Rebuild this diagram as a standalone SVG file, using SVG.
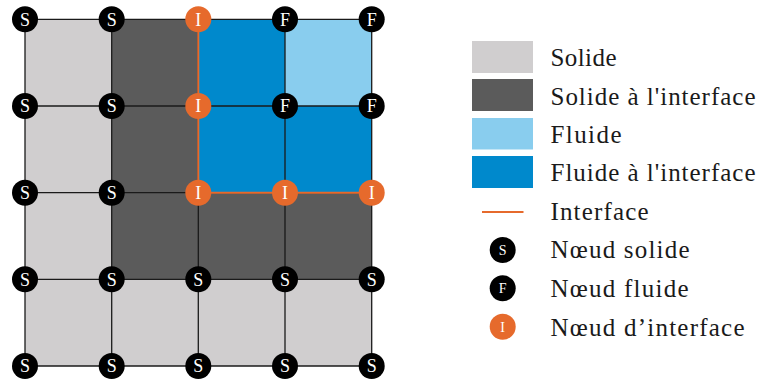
<svg xmlns="http://www.w3.org/2000/svg" width="763" height="383" viewBox="0 0 763 383">
<defs>
<circle id="dot" r="13"/>
</defs>
<rect width="763" height="383" fill="#fff"/>
<g id="cells">
<g fill="#D0CECF">
<rect x="25" y="19.3" width="86.7" height="86.7"/>
<rect x="25" y="106" width="86.7" height="86.7"/>
<rect x="25" y="192.7" width="86.7" height="86.6"/>
<rect x="25" y="279.3" width="346.7" height="86.7"/>
</g>
<g fill="#5B5B5B">
<rect x="111.7" y="19.3" width="86.6" height="86.7"/>
<rect x="111.7" y="106" width="86.6" height="86.7"/>
<rect x="111.7" y="192.7" width="260" height="86.6"/>
</g>
<g fill="#0089CC">
<rect x="198.3" y="19.3" width="86.7" height="86.7"/>
<rect x="198.3" y="106" width="173.4" height="86.7"/>
</g>
<rect fill="#89CDEE" x="285" y="19.3" width="86.7" height="86.7"/>
</g>
<g id="connectors">
<g stroke="#1a1a1a" stroke-width="1.3">
<line x1="25" y1="19.3" x2="371.7" y2="19.3"/>
<line x1="25" y1="106" x2="371.7" y2="106"/>
<line x1="25" y1="192.7" x2="371.7" y2="192.7"/>
<line x1="25" y1="279.3" x2="371.7" y2="279.3"/>
<line x1="25" y1="366" x2="371.7" y2="366"/>
<line x1="25" y1="19.3" x2="25" y2="366"/>
<line x1="111.7" y1="19.3" x2="111.7" y2="366"/>
<line x1="198.3" y1="19.3" x2="198.3" y2="366"/>
<line x1="285" y1="19.3" x2="285" y2="366"/>
<line x1="371.7" y1="19.3" x2="371.7" y2="366"/>
</g>
<polyline points="198.3,19.3 198.3,192.7 371.7,192.7" fill="none" stroke="#E66A2C" stroke-width="2"/>
</g>
<g id="nodes" font-family="Liberation Serif, DejaVu Serif, serif" font-size="18" text-anchor="middle">
<g id="n00"><use href="#dot" x="25" y="19.3" fill="#000"/><text fill="#fff" x="25" y="25.6">S</text></g>
<g id="n01"><use href="#dot" x="111.7" y="19.3" fill="#000"/><text fill="#fff" x="111.7" y="25.6">S</text></g>
<g id="n02"><use href="#dot" x="198.3" y="19.3" fill="#E66A2C"/><text fill="#fff" x="198.3" y="25.6">I</text></g>
<g id="n03"><use href="#dot" x="285" y="19.3" fill="#000"/><text fill="#fff" x="285" y="25.6">F</text></g>
<g id="n04"><use href="#dot" x="371.7" y="19.3" fill="#000"/><text fill="#fff" x="371.7" y="25.6">F</text></g>
<g id="n10"><use href="#dot" x="25" y="106" fill="#000"/><text fill="#fff" x="25" y="112.3">S</text></g>
<g id="n11"><use href="#dot" x="111.7" y="106" fill="#000"/><text fill="#fff" x="111.7" y="112.3">S</text></g>
<g id="n12"><use href="#dot" x="198.3" y="106" fill="#E66A2C"/><text fill="#fff" x="198.3" y="112.3">I</text></g>
<g id="n13"><use href="#dot" x="285" y="106" fill="#000"/><text fill="#fff" x="285" y="112.3">F</text></g>
<g id="n14"><use href="#dot" x="371.7" y="106" fill="#000"/><text fill="#fff" x="371.7" y="112.3">F</text></g>
<g id="n20"><use href="#dot" x="25" y="192.7" fill="#000"/><text fill="#fff" x="25" y="199">S</text></g>
<g id="n21"><use href="#dot" x="111.7" y="192.7" fill="#000"/><text fill="#fff" x="111.7" y="199">S</text></g>
<g id="n22"><use href="#dot" x="198.3" y="192.7" fill="#E66A2C"/><text fill="#fff" x="198.3" y="199">I</text></g>
<g id="n23"><use href="#dot" x="285" y="192.7" fill="#E66A2C"/><text fill="#fff" x="285" y="199">I</text></g>
<g id="n24"><use href="#dot" x="371.7" y="192.7" fill="#E66A2C"/><text fill="#fff" x="371.7" y="199">I</text></g>
<g id="n30"><use href="#dot" x="25" y="279.3" fill="#000"/><text fill="#fff" x="25" y="285.6">S</text></g>
<g id="n31"><use href="#dot" x="111.7" y="279.3" fill="#000"/><text fill="#fff" x="111.7" y="285.6">S</text></g>
<g id="n32"><use href="#dot" x="198.3" y="279.3" fill="#000"/><text fill="#fff" x="198.3" y="285.6">S</text></g>
<g id="n33"><use href="#dot" x="285" y="279.3" fill="#000"/><text fill="#fff" x="285" y="285.6">S</text></g>
<g id="n34"><use href="#dot" x="371.7" y="279.3" fill="#000"/><text fill="#fff" x="371.7" y="285.6">S</text></g>
<g id="n40"><use href="#dot" x="25" y="366" fill="#000"/><text fill="#fff" x="25" y="372.3">S</text></g>
<g id="n41"><use href="#dot" x="111.7" y="366" fill="#000"/><text fill="#fff" x="111.7" y="372.3">S</text></g>
<g id="n42"><use href="#dot" x="198.3" y="366" fill="#000"/><text fill="#fff" x="198.3" y="372.3">S</text></g>
<g id="n43"><use href="#dot" x="285" y="366" fill="#000"/><text fill="#fff" x="285" y="372.3">S</text></g>
<g id="n44"><use href="#dot" x="371.7" y="366" fill="#000"/><text fill="#fff" x="371.7" y="372.3">S</text></g>
</g>
<g id="legend" font-family="Liberation Serif, DejaVu Serif, serif">
<rect fill="#D0CECF" x="472" y="41" width="61" height="32"/>
<rect fill="#5B5B5B" x="472" y="79" width="61" height="32"/>
<rect fill="#89CDEE" x="472" y="118" width="61" height="31.5"/>
<rect fill="#0089CC" x="472" y="156" width="61" height="32"/>
<line x1="482" y1="212" x2="523.5" y2="212" stroke="#E66A2C" stroke-width="2"/>
<use href="#dot" x="502.7" y="250" fill="#000"/>
<use href="#dot" x="502.7" y="288.3" fill="#000"/>
<use href="#dot" x="502.7" y="326.7" fill="#E66A2C"/>
<g fill="#fff" font-size="14" text-anchor="middle">
<text x="502.7" y="255">S</text>
<text x="502.7" y="293.3">F</text>
<text x="502.7" y="331.7">I</text>
</g>
<g fill="#1a1a1a" font-size="25">
<text x="550.5" y="66" textLength="66" lengthAdjust="spacing">Solide</text>
<text x="550.5" y="104.5" textLength="205" lengthAdjust="spacing">Solide à l'interface</text>
<text x="550.5" y="143" textLength="71" lengthAdjust="spacing">Fluide</text>
<text x="550.5" y="181" textLength="205" lengthAdjust="spacing">Fluide à l'interface</text>
<text x="550.5" y="220" textLength="98" lengthAdjust="spacing">Interface</text>
<text x="550.5" y="258.3" textLength="139" lengthAdjust="spacing">Nœud solide</text>
<text x="550.5" y="296.7" textLength="138" lengthAdjust="spacing">Nœud fluide</text>
<text x="550.5" y="335.7" textLength="194" lengthAdjust="spacing">Nœud d’interface</text>
</g>
</g>
</svg>
